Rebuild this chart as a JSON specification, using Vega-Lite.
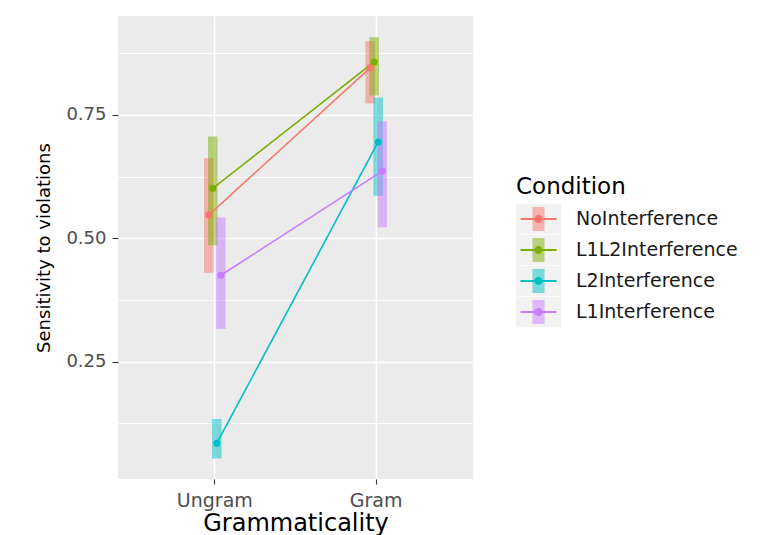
{
  "$schema": "https://vega.github.io/schema/vega-lite/v6.json",
  "width": 355,
  "height": 463,
  "autosize": {"type": "none"},
  "padding": {"left": 118, "top": 16, "right": 294, "bottom": 56},
  "background": "white",
  "config": {
    "view": {"fill": "#EBEBEB", "stroke": null},
    "font": "DejaVu Sans"
  },
  "data": {
    "values": [
      {"Grammaticality": "Ungram", "Condition": "NoInterference", "Sensitivity": 0.547, "Lower": 0.430, "Upper": 0.662},
      {"Grammaticality": "Ungram", "Condition": "L1L2Interference", "Sensitivity": 0.601, "Lower": 0.486, "Upper": 0.706},
      {"Grammaticality": "Ungram", "Condition": "L2Interference", "Sensitivity": 0.085, "Lower": 0.054, "Upper": 0.134},
      {"Grammaticality": "Ungram", "Condition": "L1Interference", "Sensitivity": 0.425, "Lower": 0.316, "Upper": 0.542},
      {"Grammaticality": "Gram", "Condition": "NoInterference", "Sensitivity": 0.845, "Lower": 0.773, "Upper": 0.899},
      {"Grammaticality": "Gram", "Condition": "L1L2Interference", "Sensitivity": 0.857, "Lower": 0.789, "Upper": 0.907},
      {"Grammaticality": "Gram", "Condition": "L2Interference", "Sensitivity": 0.695, "Lower": 0.586, "Upper": 0.785},
      {"Grammaticality": "Gram", "Condition": "L1Interference", "Sensitivity": 0.636, "Lower": 0.522, "Upper": 0.737}
    ]
  },
  "encoding": {
    "x": {
      "field": "Grammaticality", "type": "nominal", "sort": ["Ungram", "Gram"],
      "title": "Grammaticality",
      "scale": {"type": "band", "paddingInner": 0.9, "paddingOuter": 0.55},
      "axis": {
        "labelAngle": 0, "labelFont": "DejaVu Sans", "labelFontSize": 19, "labelColor": "#4D4D4D", "labelPadding": 7,
        "tickColor": "#333333", "tickSize": 5, "tickWidth": 1.1,
        "grid": true, "gridColor": "white", "gridWidth": 1.6, "domain": false,
        "titleFont": "DejaVu Sans", "titleFontSize": 24, "titleFontWeight": "normal", "titleColor": "black", "titlePadding": 1
      }
    },
    "xOffset": {
      "field": "Condition", "type": "nominal",
      "sort": ["NoInterference", "L1L2Interference", "L2Interference", "L1Interference"],
      "scale": {"paddingInner": 0, "paddingOuter": 0}
    }
  },
  "layer": [
    {
      "mark": {"type": "bar", "width": 9.5, "opacity": 0.5},
      "encoding": {
        "y": {
          "field": "Lower", "type": "quantitative", "title": "Sensitivity to violations",
          "scale": {"domain": [0.0125, 0.95], "nice": false, "zero": false},
          "axis": {
            "values": [0.125, 0.25, 0.375, 0.5, 0.625, 0.75, 0.875],
            "labelExpr": "datum.value == 0.25 || datum.value == 0.5 || datum.value == 0.75 ? format(datum.value, '.2f') : ''",
            "grid": true, "gridColor": "white",
            "gridWidth": {"condition": {"test": "datum.value == 0.25 || datum.value == 0.5 || datum.value == 0.75", "value": 1.6}, "value": 0.9},
            "tickOpacity": {"condition": {"test": "datum.value == 0.25 || datum.value == 0.5 || datum.value == 0.75", "value": 1}, "value": 0},
            "tickColor": "#333333", "tickSize": 6, "tickWidth": 1.1,
            "labelPadding": 6, "labelFont": "DejaVu Sans", "labelFontSize": 18, "labelColor": "#4D4D4D",
            "domain": false,
            "titleFont": "DejaVu Sans", "titleFontSize": 18, "titleFontWeight": "normal", "titleColor": "black", "titlePadding": 12
          }
        },
        "y2": {"field": "Upper"},
        "color": {
          "field": "Condition", "type": "nominal",
          "scale": {
            "domain": ["NoInterference", "L1L2Interference", "L2Interference", "L1Interference"],
            "range": ["#F8766D", "#7CAE00", "#00BFC4", "#C77CFF"]
          },
          "legend": {
            "orient": "none", "legendX": 398, "legendY": 159.5, "direction": "vertical", "zindex": 1,
            "title": "Condition", "titleFont": "DejaVu Sans", "titleFontSize": 23, "titleFontWeight": "normal", "titleOpacity": 0, "titlePadding": 5,
            "labelFont": "DejaVu Sans", "labelFontSize": 19, "labelOpacity": 0, "labelOffset": 15, "labelLimit": 300,
            "symbolType": "M-1,-0.689L-1,-0.689M1,0.689L1,0.689M-0.267,-0.533H0.267V0.533H-0.267Z",
            "symbolSize": 2025, "symbolStrokeWidth": 0, "symbolOffset": 0, "symbolOpacity": 0.5,
            "clipHeight": 31, "rowPadding": 0, "padding": 0
          }
        }
      }
    },
    {
      "mark": {"type": "line", "strokeWidth": 1.6},
      "encoding": {
        "y": {
          "field": "Sensitivity", "type": "quantitative", "title": "Sensitivity to violations",
          "scale": {"domain": [0.0125, 0.95], "nice": false, "zero": false},
          "axis": {
            "values": [0.125, 0.25, 0.375, 0.5, 0.625, 0.75, 0.875],
            "labelExpr": "datum.value == 0.25 || datum.value == 0.5 || datum.value == 0.75 ? format(datum.value, '.2f') : ''",
            "grid": true, "gridColor": "white",
            "gridWidth": {"condition": {"test": "datum.value == 0.25 || datum.value == 0.5 || datum.value == 0.75", "value": 1.6}, "value": 0.9},
            "tickOpacity": {"condition": {"test": "datum.value == 0.25 || datum.value == 0.5 || datum.value == 0.75", "value": 1}, "value": 0},
            "tickColor": "#333333", "tickSize": 6, "tickWidth": 1.1,
            "labelPadding": 6, "labelFont": "DejaVu Sans", "labelFontSize": 18, "labelColor": "#4D4D4D",
            "domain": false,
            "titleFont": "DejaVu Sans", "titleFontSize": 18, "titleFontWeight": "normal", "titleColor": "black", "titlePadding": 12
          }
        },
        "color": {
          "field": "Condition", "type": "nominal",
          "scale": {
            "domain": ["NoInterference", "L1L2Interference", "L2Interference", "L1Interference"],
            "range": ["#F8766D", "#7CAE00", "#00BFC4", "#C77CFF"]
          },
          "legend": {
            "orient": "none", "legendX": 398, "legendY": 159.5, "direction": "vertical", "zindex": 0,
            "title": "Condition", "titleFont": "DejaVu Sans", "titleFontSize": 23, "titleFontWeight": "normal", "titleOpacity": 0, "titlePadding": 5,
            "labelFont": "DejaVu Sans", "labelFontSize": 19, "labelOpacity": 0, "labelOffset": 15, "labelLimit": 300,
            "symbolType": "M-1,-0.689H1V0.689H-1Z",
            "symbolSize": 2025, "symbolStrokeWidth": 0, "symbolOffset": 0, "symbolOpacity": 1,
            "symbolFillColor": "#F2F2F2",
            "clipHeight": 31, "rowPadding": 0, "padding": 0,
            "encode": {"symbols": {"update": {"fill": {"value": "#F2F2F2"}, "stroke": {"value": "transparent"}, "opacity": {"value": 1}}}}
          }
        }
      }
    },
    {
      "mark": {"type": "point", "filled": true, "size": 50, "opacity": 1},
      "encoding": {
        "y": {
          "field": "Sensitivity", "type": "quantitative", "title": "Sensitivity to violations",
          "scale": {"domain": [0.0125, 0.95], "nice": false, "zero": false},
          "axis": {
            "values": [0.125, 0.25, 0.375, 0.5, 0.625, 0.75, 0.875],
            "labelExpr": "datum.value == 0.25 || datum.value == 0.5 || datum.value == 0.75 ? format(datum.value, '.2f') : ''",
            "grid": true, "gridColor": "white",
            "gridWidth": {"condition": {"test": "datum.value == 0.25 || datum.value == 0.5 || datum.value == 0.75", "value": 1.6}, "value": 0.9},
            "tickOpacity": {"condition": {"test": "datum.value == 0.25 || datum.value == 0.5 || datum.value == 0.75", "value": 1}, "value": 0},
            "tickColor": "#333333", "tickSize": 6, "tickWidth": 1.1,
            "labelPadding": 6, "labelFont": "DejaVu Sans", "labelFontSize": 18, "labelColor": "#4D4D4D",
            "domain": false,
            "titleFont": "DejaVu Sans", "titleFontSize": 18, "titleFontWeight": "normal", "titleColor": "black", "titlePadding": 12
          }
        },
        "color": {
          "field": "Condition", "type": "nominal",
          "scale": {
            "domain": ["NoInterference", "L1L2Interference", "L2Interference", "L1Interference"],
            "range": ["#F8766D", "#7CAE00", "#00BFC4", "#C77CFF"]
          },
          "legend": {
            "orient": "none", "legendX": 398, "legendY": 159.5, "direction": "vertical", "zindex": 2,
            "title": "Condition", "titleFont": "DejaVu Sans", "titleFontSize": 23, "titleFontWeight": "normal", "titleColor": "black", "titlePadding": 5,
            "labelFont": "DejaVu Sans", "labelFontSize": 19, "labelColor": "#1A1A1A", "labelOffset": 15, "labelLimit": 300,
            "symbolType": "M-1,-0.689L-1,-0.689M1,0.689L1,0.689M-0.8,-0.04H0.8V0.04H-0.8ZM-0.18,0A0.18,0.18 0 1 1 0.18,0A0.18,0.18 0 1 1 -0.18,0Z",
            "symbolSize": 2025, "symbolStrokeWidth": 0, "symbolOffset": 0, "symbolOpacity": 1,
            "clipHeight": 31, "rowPadding": 0, "padding": 0
          }
        }
      }
    }
  ],
  "resolve": {
    "scale": {"color": "independent"},
    "legend": {"color": "independent"}
  }
}
